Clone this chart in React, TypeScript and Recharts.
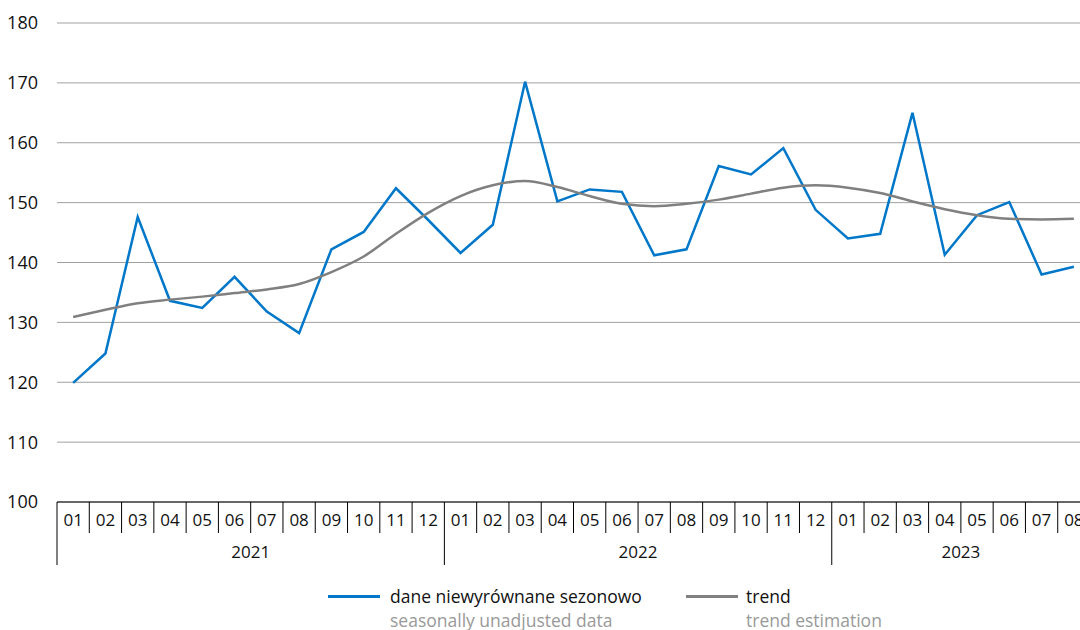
import React from "react";
import { LineChart, Line, XAxis, YAxis, CartesianGrid } from "recharts";

const years = ["2021", "2022", "2023"];
const monthsPerYear = [12, 12, 8];
const monthLabels = ["01", "02", "03", "04", "05", "06", "07", "08", "09", "10", "11", "12"];

// dane niewyrównane sezonowo / seasonally unadjusted data
const unadjusted = [
	119.9, 124.8, 147.6, 133.6, 132.4, 137.6, 131.8, 128.2, 142.2, 145.1, 152.4, 147.1,
	141.6, 146.3, 170.2, 150.2, 152.2, 151.8, 141.2, 142.2, 156.1, 154.7, 159.1, 148.8,
	144.0, 144.8, 165.0, 141.3, 147.9, 150.1, 138.0, 139.3,
];

// trend / trend estimation
const trend = [
	130.9, 132.1, 133.2, 133.8, 134.3, 134.9, 135.5, 136.4, 138.4, 141.0, 144.8, 148.3,
	151.1, 152.9, 153.6, 152.6, 151.1, 149.8, 149.4, 149.8, 150.5, 151.5, 152.5, 152.9,
	152.5, 151.6, 150.2, 148.9, 147.9, 147.3, 147.2, 147.3,
];

const yTicks = [100, 110, 120, 130, 140, 150, 160, 170, 180];

const BLUE = "#0077c8";
const GREY = "#808080";
const FONT = "'Open Sans', sans-serif";

const CHART_W = 1100;
const MARGIN = { top: 23, right: 10, left: 0, bottom: 68 };
const Y_W = 57;

// build rows from the arrays
const rows: { key: string; month: string; year: string; pos: number; count: number; unadjusted: number; trend: number }[] = [];
years.forEach((year, yi) => {
	for (let m = 0; m < monthsPerYear[yi]; m++) {
		const i = rows.length;
		rows.push({
			key: `${year}-${monthLabels[m]}`,
			month: monthLabels[m],
			year,
			pos: m,
			count: monthsPerYear[yi],
			unadjusted: unadjusted[i],
			trend: trend[i],
		});
	}
});

function MonthTick(props: any) {
	const { x, y, payload, index } = props;
	const i = payload?.index ?? index;
	const row = rows[i];
	if (!row) return null;
	const plotW = CHART_W - MARGIN.left - MARGIN.right - Y_W;
	const half = plotW / rows.length / 2;
	const left = x - half;
	const firstOfYear = row.pos === 0;
	const middle = row.pos === Math.floor(row.count / 2) - 1;
	return (
		<g>
			<line x1={left} x2={left} y1={y} y2={y + (firstOfYear ? 63 : 31)} stroke="#000" strokeWidth={1} />
			<text x={x} y={y + 24} textAnchor="middle" fontFamily={FONT} fontSize={17} fill="#111">
				{row.month}
			</text>
			{middle && (
				<text x={x + half} y={y + 56} textAnchor="middle" fontFamily={FONT} fontSize={17} fill="#111">
					{row.year}
				</text>
			)}
		</g>
	);
}

export default function App() {
	return (
		<div style={{ position: "absolute", left: 0, top: 0, width: 1080, height: 630, overflow: "hidden", background: "#fff" }}>
			<LineChart width={CHART_W} height={630} data={rows} margin={MARGIN}>
				<CartesianGrid horizontal vertical={false} stroke="#a0a0a0" strokeWidth={1} />
				<XAxis
					dataKey="key"
					scale="band"
					interval={0}
					axisLine={{ stroke: "#000", strokeWidth: 1 }}
					tickLine={false}
					tickSize={0}
					tickMargin={0}
					height={60}
					tick={<MonthTick />}
				/>
				<YAxis
					domain={[100, 180]}
					ticks={yTicks}
					width={Y_W}
					axisLine={false}
					tickLine={false}
					tickMargin={13}
					tick={{ fontFamily: FONT, fontSize: 18, fill: "#111" }}
				/>
				<Line type="linear" dataKey="unadjusted" stroke={BLUE} strokeWidth={2.5} dot={false} isAnimationActive={false} />
				<Line type="monotone" dataKey="trend" stroke={GREY} strokeWidth={2.5} dot={false} isAnimationActive={false} />
			</LineChart>

			{/* legend */}
			<div style={{ position: "absolute", left: 328, top: 595, width: 52, height: 2.5, background: BLUE }} />
			<div style={{ position: "absolute", left: 390, top: 585, fontFamily: FONT, fontSize: 17.5, lineHeight: "22px", color: "#111", whiteSpace: "nowrap" }}>
				dane niewyrównane sezonowo
			</div>
			<div style={{ position: "absolute", left: 390, top: 609, fontFamily: FONT, fontSize: 17.5, lineHeight: "22px", color: "#999", whiteSpace: "nowrap" }}>
				seasonally unadjusted data
			</div>
			<div style={{ position: "absolute", left: 686, top: 595, width: 52, height: 2.5, background: GREY }} />
			<div style={{ position: "absolute", left: 746, top: 585, fontFamily: FONT, fontSize: 17.5, lineHeight: "22px", color: "#111", whiteSpace: "nowrap" }}>
				trend
			</div>
			<div style={{ position: "absolute", left: 746, top: 609, fontFamily: FONT, fontSize: 17.5, lineHeight: "22px", color: "#999", whiteSpace: "nowrap" }}>
				trend estimation
			</div>
		</div>
	);
}
